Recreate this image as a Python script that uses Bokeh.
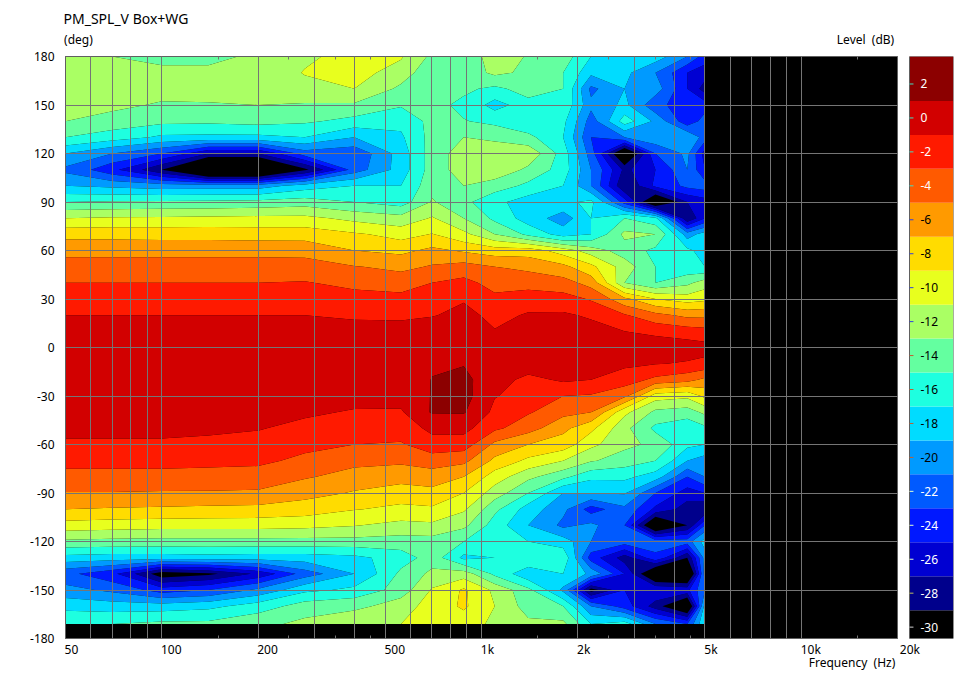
from bokeh.plotting import figure
from bokeh.layouts import row
from bokeh.models import Range1d, FixedTicker, LogAxis, Title
from bokeh.core.properties import value
from bokeh.embed import file_html
from bokeh.resources import INLINE
import numpy as np

FREQS = [50, 70, 100, 140, 200, 280, 400, 560, 700, 880, 1100, 1400, 1800, 2200, 2800, 3500, 4400, 5000]
ANGLES = [180, 170, 160, 150, 140, 130, 120, 110, 100, 90, 80, 70, 60, 50, 40, 30, 20, 10, 0,
          -10, -20, -30, -40, -50, -60, -70, -80, -90, -100, -110, -120, -130, -140, -150, -160, -171]
SPL = [
    [-12, -13, -14.2, -14.2, -12, -11.3, -10.3, -10.8, -13.5, -14.5, -11.8, -13.2, -14, -17, -17, -18, -21, -24],
    [-12, -12, -12, -12, -12, -10.9, -10.4, -11.8, -14.8, -14.2, -12.5, -13.5, -15, -18.5, -18.5, -21, -25, -26],
    [-12, -12, -12, -12, -12, -11.5, -11, -13.5, -15, -14.6, -15.5, -14, -15, -21.5, -19, -20, -25, -28],
    [-12, -12.5, -13.3, -13.2, -13, -13.2, -13.3, -14.8, -14.4, -15.5, -17.8, -15.8, -15.5, -20.5, -18.5, -22.5, -24, -24],
    [-13, -13.8, -14.5, -14.6, -14.3, -14.7, -15.7, -16.5, -14.3, -14.9, -15.5, -16.5, -16.5, -22, -16, -19.5, -24.5, -22],
    [-15, -16, -17.4, -17.5, -17.5, -17, -19, -17.3, -14.2, -13, -13.5, -14.5, -17, -23, -21, -19.5, -19, -22],
    [-19, -21, -23, -27, -27, -22, -22.5, -18, -14, -12, -11.5, -11.5, -16, -22, -33, -23, -20.5, -26],
    [-21.5, -24.5, -29, -36, -36, -29.5, -22, -18, -14, -12, -11.5, -13.5, -16, -21, -27.5, -25, -21, -25],
    [-19, -19.5, -20, -20, -20, -18, -17, -17, -13.6, -13, -14, -15.5, -17, -21, -29, -24.5, -22.5, -22],
    [-15, -14.8, -14.7, -14.6, -14.4, -14, -15, -16, -12.8, -14.5, -16.5, -18, -17.5, -16.5, -24, -33, -27, -26],
    [-11, -10.8, -10.7, -10.6, -10.5, -10.5, -11.6, -12.3, -10.8, -13, -15.5, -18, -20, -17, -15, -16.5, -29, -25],
    [-7.6, -7.6, -7.7, -7.7, -7.8, -7.8, -8.7, -9.8, -8.9, -10.5, -13, -15.5, -18, -17, -12.5, -13, -20, -18],
    [-5.7, -5.7, -5.7, -5.7, -5.7, -5.8, -7, -7.5, -6.5, -7.3, -8, -8, -10, -12, -14, -15.5, -16.5, -18],
    [-4, -4, -4, -4, -4, -4, -4.9, -5.5, -4.8, -4.2, -5, -5.5, -6.5, -8.5, -12, -15, -16.5, -17],
    [-3, -3, -3, -3, -3, -2.9, -3.5, -3.9, -3, -2.4, -3.8, -3.8, -4.2, -5.8, -13, -15, -13.5, -12],
    [-2, -2, -2, -2, -2, -2, -2.3, -2.4, -2, -1.15, -2.5, -1.9, -2.2, -3.2, -6.5, -9, -10, -9.5],
    [-1, -1, -1, -1, -1, -1, -1.2, -1.4, -1.1, -0.5, -1.5, -0.8, -0.7, -1.3, -2.8, -4.4, -5.5, -5.5],
    [-0.3, -0.3, -0.3, -0.3, -0.3, -0.3, -0.5, -0.2, 0, 0.2, -0.9, -0.3, -0.2, -0.2, -1, -1.5, -2, -2.3],
    [0.2, 0.2, 0.2, 0.2, 0.2, 0.2, 0.1, 0.1, 0.5, 0.5, 0, 0, 0, 0, 0, 0.2, 0, -0.3],
    [0.2, 0.2, 0.2, 0.2, 0.2, 0.2, 0.1, 0, 0.8, 0.9, -0.2, 0, -0.3, -0.2, -0.6, -0.9, -1.2, -1.5],
    [0.1, 0.1, 0.1, 0.1, 0.1, 0.1, 0, 0, 1.05, 1.5, -0.3, -1.5, -0.7, -1, -2, -3.5, -4.3, -5.5],
    [0, 0, 0, 0, 0, -0.1, -0.2, -0.3, 1.1, 1.7, -0.9, -1.8, -3, -3.2, -4.5, -10, -10.5, -8.5],
    [-0.2, -0.1, -0.1, -0.1, -0.2, -0.7, -1.2, -1.2, 1.2, 1.15, -1.5, -2.8, -4.4, -5, -10.5, -13.5, -14, -12.5],
    [-0.5, -0.5, -0.5, -0.6, -0.9, -1.5, -2.1, -2, -0.5, -0.4, -2.6, -4.2, -6.5, -8.5, -12.5, -15.5, -16.5, -15.5],
    [-1.3, -1.3, -1.3, -1.5, -1.6, -2.4, -3, -3.2, -1.8, -2, -5.5, -7, -7.9, -10.5, -12.5, -13.5, -16.5, -17],
    [-2.4, -2.4, -2.4, -2.5, -2.6, -3.5, -4.4, -4.6, -4, -4.5, -7.5, -9.5, -11, -12.8, -14, -15, -19, -20],
    [-3.6, -3.6, -3.6, -3.7, -3.8, -4.8, -5.8, -6.3, -6, -7, -10, -12.5, -14.5, -16.5, -16.5, -18, -23, -21],
    [-5.1, -5.1, -5.2, -5.2, -5.3, -6.3, -7.2, -7.9, -7.6, -9, -12, -15, -19, -19, -18.8, -23, -26, -25],
    [-7, -7.2, -7.3, -7.5, -7.6, -8, -8.9, -9.5, -9.3, -10.7, -14.5, -18, -20.5, -24, -21.5, -25.5, -28, -29],
    [-9.8, -10, -10.2, -10.2, -10.2, -10.4, -10.9, -11.6, -11.4, -12.5, -16, -19, -21.5, -20.5, -23, -33, -29, -23],
    [-13.4, -13.6, -13.7, -13.7, -13.7, -13.7, -13.7, -13.9, -13.8, -15, -16, -17, -18, -21, -22, -22, -22, -18],
    [-17.7, -18, -18, -17.8, -18, -18, -17.5, -16, -14, -17.5, -17, -15, -15.5, -24, -28, -23.5, -29, -20],
    [-22.5, -24.5, -30.5, -29.5, -26.5, -22, -19, -14.5, -12.5, -12, -15.5, -18.5, -17, -19.5, -25, -33, -34, -20],
    [-20.3, -21.5, -24, -23, -20.5, -17.5, -16.5, -14, -10.8, -8.7, -11.5, -14.5, -19.5, -30, -25, -25, -25.5, -21],
    [-17.7, -18, -18, -17.5, -16, -14, -13.5, -12, -10, -8.7, -11, -14, -15, -21, -24, -28, -33, -18],
    [-15, -15, -14.5, -14.5, -13.5, -12.5, -11.5, -11, -10, -10, -11.5, -12.5, -12.5, -17, -16, -21, -23, -17],
]
LEVELS = [-60, -29, -27, -25, -23, -21, -19, -17, -15, -13, -11, -9, -7, -5, -3, -1, 1, 60]
COLORS = ["#000000", "#00008c", "#0000d2", "#0018ff", "#005aff", "#009aff", "#00dcff", "#1effe0",
          "#64ffa0", "#aaff64", "#e8ff1e", "#ffdc00", "#ff9a00", "#ff5a00", "#ff1a00", "#d20000", "#8c0000"]
BAR_VALUES = [2, 0, -2, -4, -6, -8, -10, -12, -14, -16, -18, -20, -22, -24, -26, -28, -30]
BAR_TEXT = [str(v) for v in BAR_VALUES]
BAR_TEXT_COLORS = ["#ffffff"] * 4 + ["#000000"] * 8 + ["#000000"] * 0 + ["#ffffff"] * 5
BAR_TICK_COLORS = ["#40e0c0"] * 4 + ["#3040e0"] * 4 + ["#c06030"] * 4 + ["#e0ffd0"] * 3 + ["#c0c060", "#d0d0d0"]
X_LABELS = {50: "50", 100: "100", 200: "200", 500: "500", 1000: "1k", 2000: "2k", 5000: "5k", 10000: "10k"}
X_GRID = [60, 70, 80, 90, 100, 200, 300, 400, 500, 600, 700, 800, 900, 1000, 2000, 3000, 4000, 5000,
          6000, 7000, 8000, 9000, 10000]
X_MINOR = [150, 250, 350, 450, 1500, 2500, 3500, 4500, 15000]
Y_TICKS = [180, 150, 120, 90, 60, 30, 0, -30, -60, -90, -120, -150, -180]
DECADE_PX = 320


def text_centre(freq, width_px):
    # the reference starts each tick label at its tick: Bokeh centres them, so move the centre along
    return round(freq * 10 ** (width_px / 2 / DECADE_PX), 1)


FONT = "Noto Sans"
FS = "12px"
GRID = "#757575"
EDGE = "#606060"

p = figure(frame_width=832, frame_height=582, x_axis_type="log", x_range=Range1d(50, 20000), y_range=Range1d(-180, 180),
           output_backend="svg", toolbar_location=None, min_border_left=65, min_border_right=1,
           min_border_top=56, min_border_bottom=30, background_fill_color="#000000",
           outline_line_color=EDGE)
z = np.array(SPL)[::-1]
p.contour(FREQS, ANGLES[::-1], z, LEVELS, fill_color=COLORS)

x_over = {text_centre(f, 7 * len(t) - 2): t for f, t in X_LABELS.items()}
p.xaxis.ticker = FixedTicker(ticks=list(x_over), minor_ticks=X_MINOR)
p.xaxis.major_label_overrides = x_over
p.xaxis.major_label_text_font = FONT
p.xaxis.major_label_text_font_size = FS
p.xaxis.major_label_text_color = "#000000"
p.xaxis.major_label_standoff = 2
p.xaxis.major_tick_out = 0
p.xaxis.major_tick_line_color = None
p.xaxis.minor_tick_in = 3
p.xaxis.minor_tick_out = 0
p.xaxis.minor_tick_line_color = GRID
p.xaxis.axis_line_color = EDGE

freq_text = {text_centre(20000, -91): "Frequency\u00a0 (Hz)"}
below2 = LogAxis(ticker=FixedTicker(ticks=list(freq_text)), major_label_overrides=freq_text,
                 major_tick_line_color=None, minor_tick_line_color=None, axis_line_color=None,
                 major_tick_out=0, major_tick_in=0, minor_tick_out=0, minor_tick_in=0, major_label_standoff=-7,
                 major_label_text_font=FONT, major_label_text_font_size=FS, major_label_text_color="#000000")
p.add_layout(below2, "below")

top_text = {text_centre(50, 26): "(deg)", text_centre(20000, -64): "Level\u00a0 (dB)"}
top = LogAxis(ticker=FixedTicker(ticks=list(top_text), minor_ticks=X_MINOR), major_label_overrides=top_text,
              major_tick_line_color=None, major_tick_out=0, minor_tick_in=3, minor_tick_out=0,
              minor_tick_line_color=GRID, axis_line_color=EDGE, major_label_standoff=9, major_label_text_font=FONT,
              major_label_text_font_size=FS, major_label_text_color="#000000")
p.add_layout(top, "above")
p.add_layout(Title(text="PM_SPL_V Box+WG", align="left", offset=-2, text_font=FONT, text_font_size="14px",
                   text_font_style="normal", text_color="#000000", standoff=0), "above")

p.yaxis.ticker = FixedTicker(ticks=Y_TICKS)
p.yaxis.major_label_overrides = {v: str(v) for v in Y_TICKS}
p.yaxis.major_tick_out = 0
p.yaxis.major_tick_line_color = None
p.yaxis.minor_tick_line_color = None
p.yaxis.axis_line_color = EDGE
p.yaxis.major_label_standoff = 11
p.yaxis.major_label_text_font = FONT
p.yaxis.major_label_text_font_size = FS
p.yaxis.major_label_text_color = "#000000"

p.xgrid.ticker = FixedTicker(ticks=X_GRID)
p.ygrid.ticker = FixedTicker(ticks=Y_TICKS)
for g in (p.xgrid, p.ygrid):
    g.grid_line_color = GRID
    g.grid_line_width = 1
    g.level = "overlay"

cb = figure(frame_width=55, frame_height=582, x_range=Range1d(-0.25, 1), y_range=Range1d(-30.67, 3.62),
            output_backend="svg", toolbar_location=None, min_border_left=0, min_border_right=5,
            min_border_top=56, min_border_bottom=30, outline_line_color=None)
cb.yaxis.visible = False
cb.grid.visible = False
cb.quad(left=0, right=1, bottom=LEVELS[:-1], top=LEVELS[1:], fill_color=COLORS, line_color=None)
cb.quad(left=[0], right=[1], bottom=[-30.67], top=[3.62], fill_color=None, line_color=EDGE)
cb.segment(x0=0, x1=0.09, y0=BAR_VALUES, y1=BAR_VALUES, line_color=BAR_TICK_COLORS)
cb.text(x=0.25, y=BAR_VALUES, text=BAR_TEXT, text_color=BAR_TEXT_COLORS, text_baseline="middle",
        text_font=value(FONT), text_font_size=value(FS))
cb.xaxis.ticker = FixedTicker(ticks=[-0.05])
cb.xaxis.major_label_overrides = {-0.05: "20k"}
cb.xaxis.major_tick_out = 0
cb.xaxis.major_tick_line_color = None
cb.xaxis.minor_tick_line_color = None
cb.xaxis.axis_line_color = None
cb.xaxis.major_label_standoff = 2
cb.xaxis.major_label_text_font = FONT
cb.xaxis.major_label_text_font_size = FS
cb.xaxis.major_label_text_color = "#000000"

open("out.html", "w").write(file_html(row(p, cb), INLINE))
